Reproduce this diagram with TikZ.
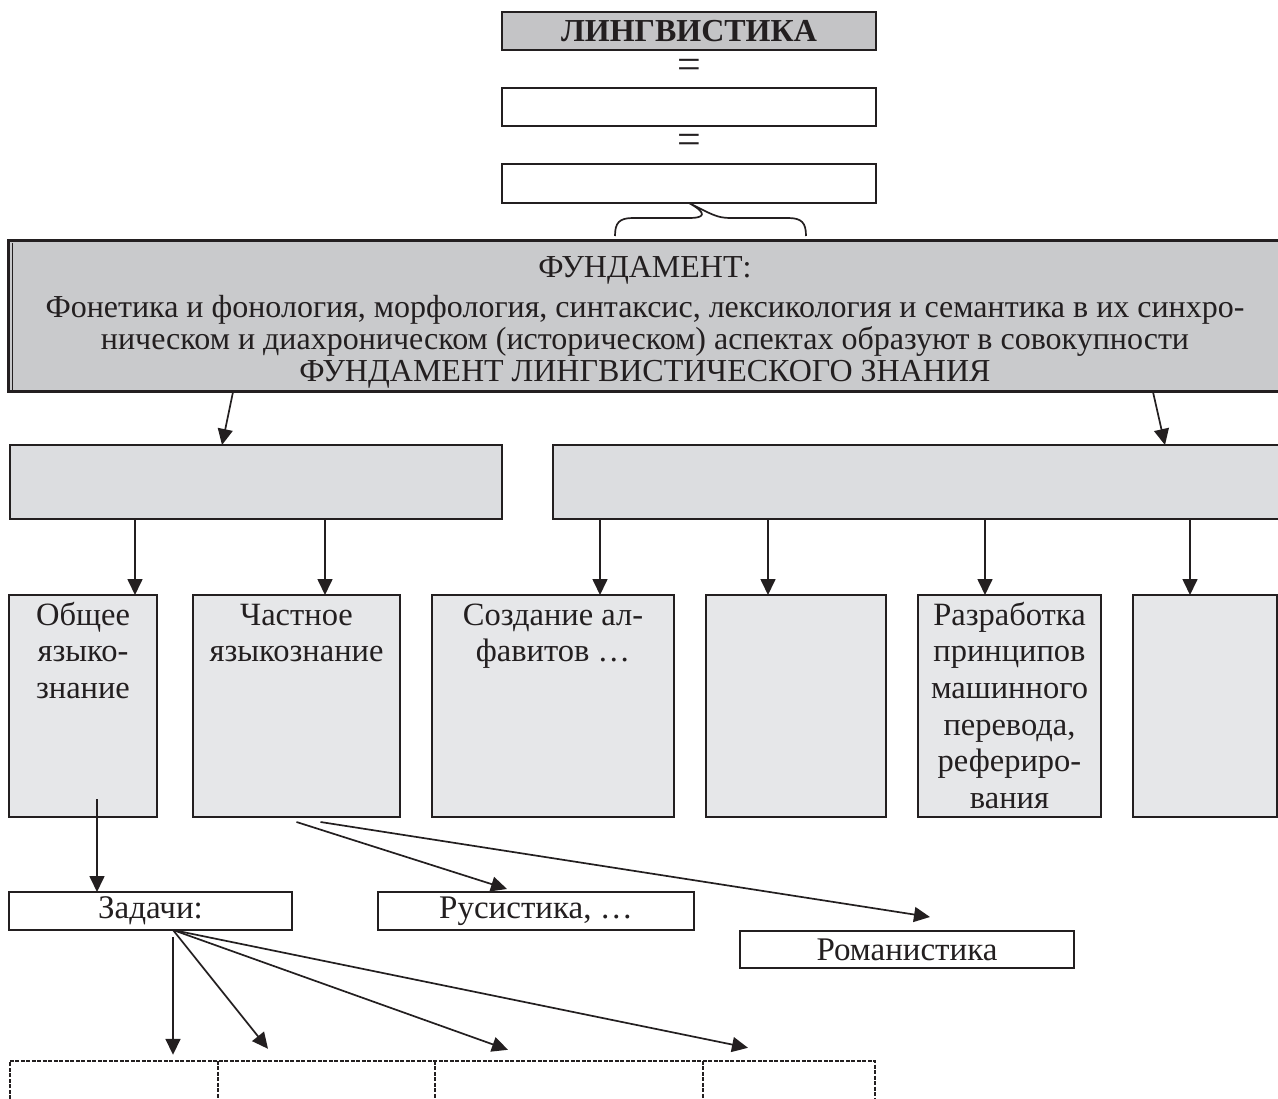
\documentclass[tikz,border=0pt]{standalone}
\usepackage{fontspec}
\setmainfont{Liberation Serif}
\usetikzlibrary{arrows.meta,calc}
\definecolor{lingv}{HTML}{C4C4C6}
\definecolor{fundc}{HTML}{C9CACC}
\definecolor{rowtwo}{HTML}{DCDDE0}
\definecolor{rowthree}{HTML}{E6E7E9}
\definecolor{ink}{HTML}{231F20}
\tikzset{
  bx/.style={draw=ink, line width=1.9pt, inner sep=0pt, outer sep=0pt},
  arr/.style={-{Triangle[length=16pt,width=15pt]}, line width=1.7pt, draw=ink, fill=ink},
  plain/.style={line width=1.7pt, draw=ink},
  dsh/.style={line width=2.4pt, draw=ink, dash pattern=on 4pt off 1.5pt},
  bigtxt/.style={inner sep=0pt, text=ink, align=center, font=\fontsize{32.5}{36.6}\selectfont},
  fundtxt/.style={inner sep=0pt, text=ink, align=center, font=\fontsize{32}{32}\selectfont},
  midtxt/.style={inner sep=0pt, text=ink, font=\fontsize{33}{34}\selectfont},
  eqtxt/.style={inner sep=0pt, text=ink, font=\fontsize{42}{42}\selectfont},
}
\begin{document}
\begin{tikzpicture}[x=1pt,y=-1pt]
\useasboundingbox (0,0) rectangle (1278,1099);
% top column
\node[bx, fill=lingv, minimum width=374, minimum height=38, font=\fontsize{32}{32}\selectfont\bfseries, text=ink] (ling) at (689,31) {ЛИНГВИСТИКА};
\node[eqtxt] (eq1) at (689,69) {=};
\node[bx, fill=white, minimum width=374, minimum height=38] (b2) at (689,107) {};
\node[eqtxt] (eq2) at (689,144) {=};
\node[bx, fill=white, minimum width=374, minimum height=39] (b3) at (689,183.5) {};
% brace
\draw[plain] (615,236) .. controls (615,223) and (619,218) .. (633,218) -- (690,218)
  .. controls (703,218) and (709,214) .. (b3.south)
  .. controls (711,214) and (717,218) .. (730,218) -- (788,218)
  .. controls (802,218) and (806,223) .. (806,236);
% fundament
\node[bx, line width=3pt, fill=fundc, minimum width=1282, minimum height=151] (fund) at (649,316.5) {};
\draw[line width=1pt, draw=ink] (12.5,243) -- (12.5,390);
\node[fundtxt, anchor=north] (fundtext) at (645,256.5) {ФУНДАМЕНТ:\\[8pt]Фонетика и фонология, морфология, синтаксис, лексикология и семантика в их синхро-\\ническом и диахроническом (историческом) аспектах образуют в совокупности\\ФУНДАМЕНТ ЛИНГВИСТИЧЕСКОГО ЗНАНИЯ};
% row 2
\node[bx, fill=rowtwo, minimum width=492, minimum height=74] (r2l) at (256,482) {};
\node[bx, fill=rowtwo, minimum width=737, minimum height=74] (r2r) at (921.5,482) {};
\draw[arr] ([xshift=-416pt]fund.south) -- ([xshift=-34pt]r2l.north);
\draw[arr] ([xshift=504pt]fund.south) -- ([xshift=243.5pt]r2r.north);
% row 3
\node[bx, fill=rowthree, minimum width=148, minimum height=222] (A) at (83,706) {};
\node[bx, fill=rowthree, minimum width=207, minimum height=222] (B) at (296.5,706) {};
\node[bx, fill=rowthree, minimum width=242, minimum height=222] (C) at (553,706) {};
\node[bx, fill=rowthree, minimum width=180, minimum height=222] (D) at (796,706) {};
\node[bx, fill=rowthree, minimum width=183, minimum height=222] (E) at (1009.5,706) {};
\node[bx, fill=rowthree, minimum width=144, minimum height=222] (F) at (1205,706) {};
\node[bigtxt, anchor=north] (At) at ([yshift=-4.4pt]A.north) {\strut Общее\\языко-\\знание};
\node[bigtxt, anchor=north] (Bt) at ([yshift=-4.4pt]B.north) {\strut Частное\\языкознание};
\node[bigtxt, anchor=north] (Ct) at ([yshift=-4.4pt]C.north) {\strut Создание ал-\\фавитов …};
\node[bigtxt, anchor=north] (Et) at ([yshift=-4.4pt]E.north) {\strut Разработка\\принципов\\машинного\\перевода,\\рефериро-\\вания};
\draw[arr] ([xshift=-121pt]r2l.south) -- ([xshift=52pt]A.north);
\draw[arr] ([xshift=69pt]r2l.south) -- ([xshift=28.5pt]B.north);
\draw[arr] ([xshift=-321.5pt]r2r.south) -- ([xshift=47pt]C.north);
\draw[arr] ([xshift=-153.5pt]r2r.south) -- ([xshift=-28pt]D.north);
\draw[arr] ([xshift=63.5pt]r2r.south) -- ([xshift=-24.5pt]E.north);
\draw[arr] ([xshift=268.5pt]r2r.south) -- ([xshift=-15pt]F.north);
% row 4
\node[bx, fill=white, minimum width=283, minimum height=38, midtxt] (zad) at (150.5,911) {Задачи:};
\node[bx, fill=white, minimum width=316, minimum height=38, midtxt] (rus) at (536,911) {Русистика, …};
\node[bx, fill=white, minimum width=334, minimum height=37, midtxt] (rom) at (907,949.5) {Романистика};
\draw[arr] ([xshift=14pt,yshift=18pt]A.south) -- ([xshift=-53.5pt]zad.north);
\draw[arr] ([yshift=-5pt]B.south) -- ([xshift=-29pt,yshift=3pt]rus.north);
\draw[arr] ([xshift=24pt,yshift=-5pt]B.south) -- ([xshift=23pt,yshift=14pt]rom.north);
% dashed cells
\node[inner sep=0pt, minimum width=208, minimum height=49] (d1) at (114,1085.5) {};
\node[inner sep=0pt, minimum width=217, minimum height=49] (d2) at (326.5,1085.5) {};
\node[inner sep=0pt, minimum width=268, minimum height=49] (d3) at (569,1085.5) {};
\node[inner sep=0pt, minimum width=172, minimum height=49] (d4) at (789,1085.5) {};
\draw[dsh] (d1.south west) -- (d1.north west) -- (d4.north east) -- (d4.south east);
\draw[dsh] (d2.north west) -- (d2.south west);
\draw[dsh] (d3.north west) -- (d3.south west);
\draw[dsh] (d4.north west) -- (d4.south west);
\draw[arr] ([xshift=22.5pt,yshift=-7pt]zad.south) -- ([xshift=59pt,yshift=6pt]d1.north);
\draw[arr] ([xshift=22.5pt]zad.south) -- ([xshift=-58.5pt,yshift=12pt]d2.north);
\draw[arr] ([xshift=22.5pt]zad.south) -- ([xshift=-61pt,yshift=11pt]d3.north);
\draw[arr] ([xshift=22.5pt]zad.south) -- ([xshift=-41pt,yshift=13pt]d4.north);
\end{tikzpicture}
\end{document}
